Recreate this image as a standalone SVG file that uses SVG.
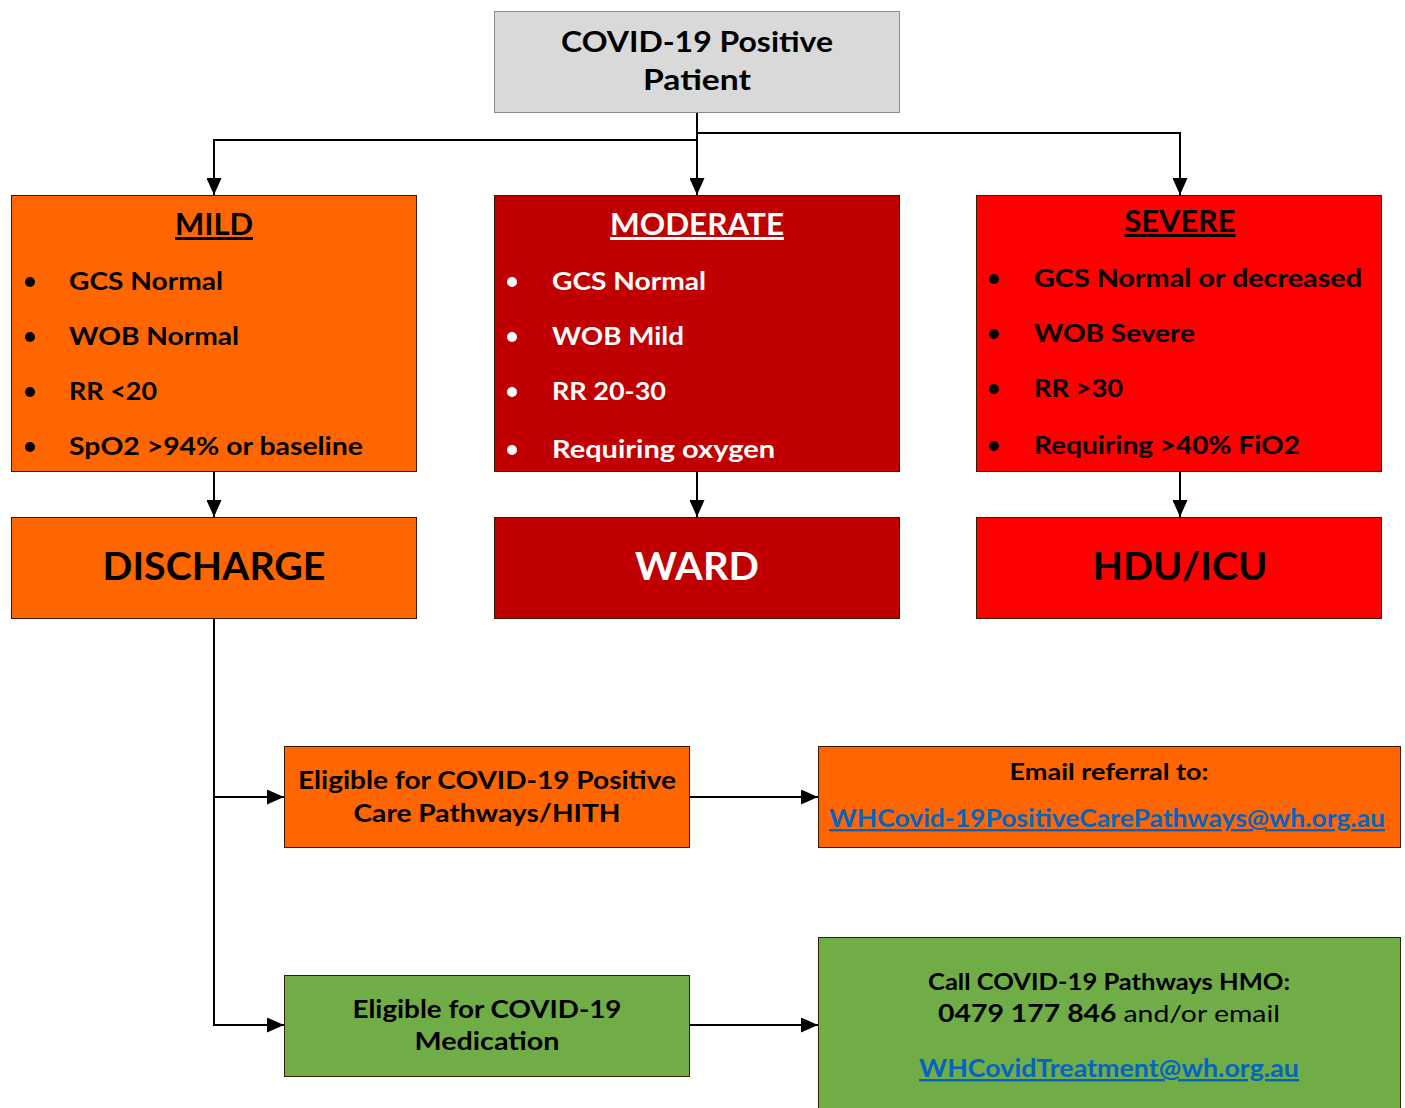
<svg xmlns="http://www.w3.org/2000/svg" width="1405" height="1108" viewBox="0 0 1405 1108">
<style>
text{font-family:Lato,"Open Sans","Liberation Sans",sans-serif;font-weight:bold;fill:#000}
.w{fill:#fff}
.c{text-anchor:middle}
.u{text-decoration:underline}
.box{stroke:#3a1a00;stroke-width:1}
.or{fill:#ff6600}.dr{fill:#c00000}.rd{fill:#ff0000}.gr{fill:#70ad47}
.con{fill:none;stroke:#000;stroke-width:2}
.link{fill:#0563c1;text-decoration:underline}
.reg{font-weight:normal}
</style>
<defs>
<marker id="ah" markerUnits="userSpaceOnUse" markerWidth="17" markerHeight="15" refX="17" refY="7.5" orient="auto" viewBox="0 0 17 15">
<path d="M0,0 L17,7.5 L0,15 z" fill="#000"/>
</marker>
</defs>
<rect width="1405" height="1108" fill="#fff"/>
<g id="connectors">
<path class="con" d="M697,112 V195" marker-end="url(#ah)"/>
<path class="con" d="M697,140 H214 V195" marker-end="url(#ah)"/>
<path class="con" d="M697,133 H1180 V195" marker-end="url(#ah)"/>
<path class="con" d="M214,471 V517" marker-end="url(#ah)"/>
<path class="con" d="M697,471 V517" marker-end="url(#ah)"/>
<path class="con" d="M1180,471 V517" marker-end="url(#ah)"/>
<path class="con" d="M214,618 V1025 H284" marker-end="url(#ah)"/>
<path class="con" d="M214,797 H284" marker-end="url(#ah)"/>
<path class="con" d="M689,797 H818" marker-end="url(#ah)"/>
<path class="con" d="M689,1025 H818" marker-end="url(#ah)"/>
</g>
<g id="patient">
<rect x="494.5" y="11.5" width="405" height="101" fill="#d9d9d9" stroke="#8c8c8c" stroke-width="1"/>
<text class="c" x="697" y="52" font-size="28" textLength="272" lengthAdjust="spacingAndGlyphs">COVID-19 Positive</text>
<text class="c" x="697" y="90" font-size="28" textLength="108" lengthAdjust="spacingAndGlyphs">Patient</text>
</g>
<g id="mild">
<rect class="box or" x="11.5" y="195.5" width="405" height="276"/>
<text class="c u" x="214" y="235" font-size="30" textLength="78" lengthAdjust="spacingAndGlyphs">MILD</text>
<circle cx="30" cy="282" r="5"/><circle cx="30" cy="337" r="5"/><circle cx="30" cy="392" r="5"/><circle cx="30" cy="447" r="5"/>
<text x="69" y="290" font-size="25" textLength="154" lengthAdjust="spacingAndGlyphs">GCS Normal</text>
<text x="69" y="345" font-size="25" textLength="170" lengthAdjust="spacingAndGlyphs">WOB Normal</text>
<text x="69" y="400" font-size="25" textLength="88" lengthAdjust="spacingAndGlyphs">RR &lt;20</text>
<text x="69" y="455" font-size="25" textLength="294" lengthAdjust="spacingAndGlyphs">SpO2 &gt;94% or baseline</text>
</g>
<g id="moderate">
<rect class="box dr" x="494.5" y="195.5" width="405" height="276"/>
<text class="c u w" x="697" y="235" font-size="30" textLength="174" lengthAdjust="spacingAndGlyphs">MODERATE</text>
<circle class="w" cx="512" cy="282" r="5"/><circle class="w" cx="512" cy="337" r="5"/><circle class="w" cx="512" cy="392" r="5"/><circle class="w" cx="512" cy="450" r="5"/>
<text class="w" x="552" y="290" font-size="25" textLength="154" lengthAdjust="spacingAndGlyphs">GCS Normal</text>
<text class="w" x="552" y="345" font-size="25" textLength="132" lengthAdjust="spacingAndGlyphs">WOB Mild</text>
<text class="w" x="552" y="400" font-size="25" textLength="114" lengthAdjust="spacingAndGlyphs">RR 20-30</text>
<text class="w" x="552" y="458" font-size="25" textLength="223" lengthAdjust="spacingAndGlyphs">Requiring oxygen</text>
</g>
<g id="severe">
<rect class="box rd" x="976.5" y="195.5" width="405" height="276"/>
<text class="c u" x="1180" y="232" font-size="30" textLength="111" lengthAdjust="spacingAndGlyphs">SEVERE</text>
<circle cx="994" cy="279" r="5"/><circle cx="994" cy="334" r="5"/><circle cx="994" cy="389" r="5"/><circle cx="994" cy="446" r="5"/>
<text x="1034" y="287" font-size="25" textLength="328" lengthAdjust="spacingAndGlyphs">GCS Normal or decreased</text>
<text x="1034" y="342" font-size="25" textLength="161" lengthAdjust="spacingAndGlyphs">WOB Severe</text>
<text x="1034" y="397" font-size="25" textLength="89" lengthAdjust="spacingAndGlyphs">RR &gt;30</text>
<text x="1034" y="454" font-size="25" textLength="266" lengthAdjust="spacingAndGlyphs">Requiring &gt;40% FiO2</text>
</g>
<g id="discharge">
<rect class="box or" x="11.5" y="517.5" width="405" height="101"/>
<text class="c" x="214" y="580" font-size="39" textLength="223" lengthAdjust="spacingAndGlyphs">DISCHARGE</text>
</g>
<g id="ward">
<rect class="box dr" x="494.5" y="517.5" width="405" height="101"/>
<text class="c w" x="697" y="580" font-size="39" textLength="124" lengthAdjust="spacingAndGlyphs">WARD</text>
</g>
<g id="hdu">
<rect class="box rd" x="976.5" y="517.5" width="405" height="101"/>
<text class="c" x="1180" y="580" font-size="39" textLength="175" lengthAdjust="spacingAndGlyphs">HDU/ICU</text>
</g>
<g id="care-pathways">
<rect class="box or" x="284.5" y="746.5" width="405" height="101"/>
<text class="c" x="487" y="789" font-size="25" textLength="378" lengthAdjust="spacingAndGlyphs">Eligible for COVID-19 Positive</text>
<text class="c" x="487" y="822" font-size="25" textLength="267" lengthAdjust="spacingAndGlyphs">Care Pathways/HITH</text>
</g>
<g id="email-referral">
<rect class="box or" x="818.5" y="746.5" width="582" height="101"/>
<text class="c" x="1109" y="780" font-size="22" textLength="199" lengthAdjust="spacingAndGlyphs">Email referral to:</text>
<text class="c link" x="1107" y="827" font-size="24" textLength="556" lengthAdjust="spacingAndGlyphs">WHCovid-19PositiveCarePathways@wh.org.au</text>
</g>
<g id="medication">
<rect class="box gr" x="284.5" y="975.5" width="405" height="101"/>
<text class="c" x="487" y="1018" font-size="25" textLength="269" lengthAdjust="spacingAndGlyphs">Eligible for COVID-19</text>
<text class="c" x="487" y="1050" font-size="25" textLength="145" lengthAdjust="spacingAndGlyphs">Medication</text>
</g>
<g id="call-hmo">
<rect class="box gr" x="818.5" y="937.5" width="582" height="175"/>
<text class="c" x="1109" y="990" font-size="22" textLength="362" lengthAdjust="spacingAndGlyphs">Call COVID-19 Pathways HMO:</text>
<text class="c" x="1109" y="1022" font-size="24" textLength="342" lengthAdjust="spacingAndGlyphs">0479 177 846 <tspan class="reg">and/or email</tspan></text>
<text class="c link" x="1109" y="1077" font-size="24" textLength="380" lengthAdjust="spacingAndGlyphs">WHCovidTreatment@wh.org.au</text>
</g>
</svg>
